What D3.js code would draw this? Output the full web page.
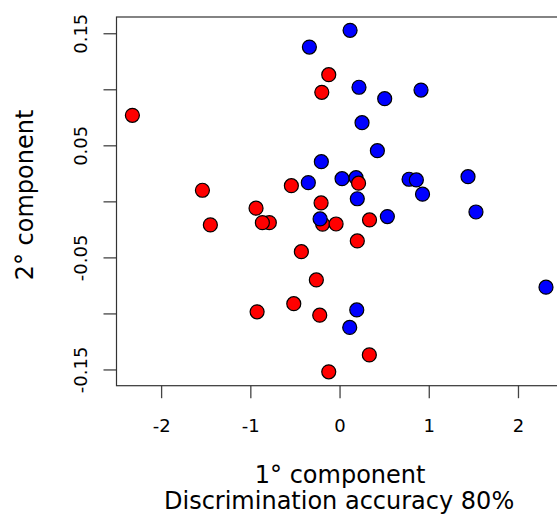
<!DOCTYPE html>
<html>
<head>
<meta charset="utf-8">
<script src="https://cdn.jsdelivr.net/npm/d3@7"></script>
<style>
body { margin: 0; background: #fff; }
svg { display: block; font-family: "DejaVu Sans", sans-serif; }
</style>
</head>
<body>
<svg id="scores" width="557" height="515"></svg>
<script>
"use strict";

// scores on the first two components, one entry per sample (drawing order)
var pc1 = [0.118, -0.338, 0.218, 0.506, 0.913, 0.252, 0.424, -0.204, -0.350, 0.028,
  0.185, 0.779, 0.861, 1.440, 0.930, 0.199, 0.536, 1.529, 2.314, 0.193, 0.114,
  -2.322, -0.121, -0.199, -1.537, -0.540, 0.213, -0.207, -0.936, -1.448, -0.787,
  -0.865, -0.190, -0.039, 0.336, 0.199, -0.428, -0.260, -0.513, -0.924, -0.222,
  0.334, -0.121,
  -0.218];
var pc2 = [0.1526, 0.1377, 0.1018, 0.0916, 0.0993, 0.0702, 0.0452, 0.0354, 0.0167, 0.0202,
  0.0211, 0.0197, 0.0191, 0.0220, 0.0064, 0.0023, -0.0136, -0.0095, -0.0766, -0.0969, -0.1125,
  0.0768, 0.1130, 0.0973, 0.0099, 0.0140, 0.0162, -0.0014, -0.0061, -0.0210, -0.0190,
  -0.0190, -0.0203, -0.0202, -0.0166, -0.0353, -0.0449, -0.0701, -0.0913, -0.0986, -0.1016,
  -0.1370, -0.1521,
  -0.0157];
var group = ['B', 'B', 'B', 'B', 'B', 'B', 'B', 'B', 'B', 'B',
  'B', 'B', 'B', 'B', 'B', 'B', 'B', 'B', 'B', 'B', 'B',
  'A', 'A', 'A', 'A', 'A', 'A', 'A', 'A', 'A', 'A',
  'A', 'A', 'A', 'A', 'A', 'A', 'A', 'A', 'A', 'A',
  'A', 'A',
  'B'];

var xTicks = [-2, -1, 0, 1, 2];
var yTicks = [-0.15, -0.10, -0.05, 0, 0.05, 0.10, 0.15];
var yLabelled = [-0.15, -0.05, 0.05, 0.15];
var xTitle = '1° component';
var xSubtitle = 'Discrimination accuracy 80%';
var yTitle = '2° component';

function make_plot(svg) {
  var margin = { top: 17, right: -4.7, bottom: 129.3, left: 116.5 };
  var width = +svg.attr('width') - margin.left - margin.right;
  var height = +svg.attr('height') - margin.top - margin.bottom;

  var plot = svg.append('g')
    .attr('transform', 'translate(' + margin.left + ',' + margin.top + ')');

  var _x = d3.scaleLinear().domain([-2.5, 2.49]).range([0, width]);
  var _y = d3.scaleLinear().domain([-0.1645, 0.1645]).range([height, 0]);
  var colour = d3.scaleOrdinal().domain(['A', 'B']).range(['#ff0000', '#0000ff']);

  var xaxis = d3.axisBottom(_x)
    .tickValues(xTicks)
    .tickSize(12.5)
    .tickSizeOuter(0)
    .tickFormat(function (d) { return String(d); });
  var yaxis = d3.axisLeft(_y)
    .tickValues(yTicks)
    .tickSize(13)
    .tickSizeOuter(0)
    .tickFormat(function (d) {
      return yLabelled.some(function (v) { return Math.abs(v - d) < 1e-9; }) ? String(d) : '';
    });

  var gx = plot.append('g')
    .attr('transform', 'translate(0,' + height + ')')
    .call(xaxis);
  gx.select('.domain').remove();
  gx.selectAll('line').attr('stroke', '#444').attr('stroke-width', 1.3);
  gx.selectAll('text')
    .attr('y', 46).attr('dy', 0)
    .attr('fill', '#000')
    .style('font-size', '18px')
    .style('font-family', '"DejaVu Sans", sans-serif');

  var gy = plot.append('g').call(yaxis);
  gy.select('.domain').remove();
  gy.selectAll('line').attr('stroke', '#444').attr('stroke-width', 1.3);
  gy.selectAll('text')
    .attr('x', 0).attr('dy', 0).attr('y', -29.5)
    .attr('transform', 'rotate(-90)')
    .attr('text-anchor', 'middle')
    .attr('fill', '#000')
    .style('font-size', '18px')
    .style('font-family', '"DejaVu Sans", sans-serif');

  // plot frame
  plot.append('rect')
    .attr('x', 0).attr('y', 0)
    .attr('width', width).attr('height', height)
    .attr('fill', 'none')
    .attr('stroke', '#333')
    .attr('stroke-width', 1.2);

  plot.append('g')
    .selectAll('circle')
    .data(pc1.map(function (v, i) { return { x: v, y: pc2[i], g: group[i] }; }))
    .enter().append('circle')
    .attr('cx', function (d) { return _x(d.x); })
    .attr('cy', function (d) { return _y(d.y); })
    .attr('r', 7)
    .attr('fill', function (d) { return colour(d.g); })
    .attr('stroke', '#000')
    .attr('stroke-width', 1.2);

  plot.append('text')
    .attr('x', width / 2 + 1).attr('y', height + 97)
    .attr('text-anchor', 'middle')
    .style('font-size', '24px')
    .text(xTitle);
  plot.append('text')
    .attr('x', width / 2).attr('y', height + 123.5)
    .attr('text-anchor', 'middle')
    .style('font-size', '24px')
    .text(xSubtitle);

  svg.append('text')
    .attr('transform', 'translate(33,195) rotate(-90)')
    .attr('text-anchor', 'middle')
    .style('font-size', '24px')
    .text(yTitle);
}

make_plot(d3.select('#scores'));
</script>
</body>
</html>
